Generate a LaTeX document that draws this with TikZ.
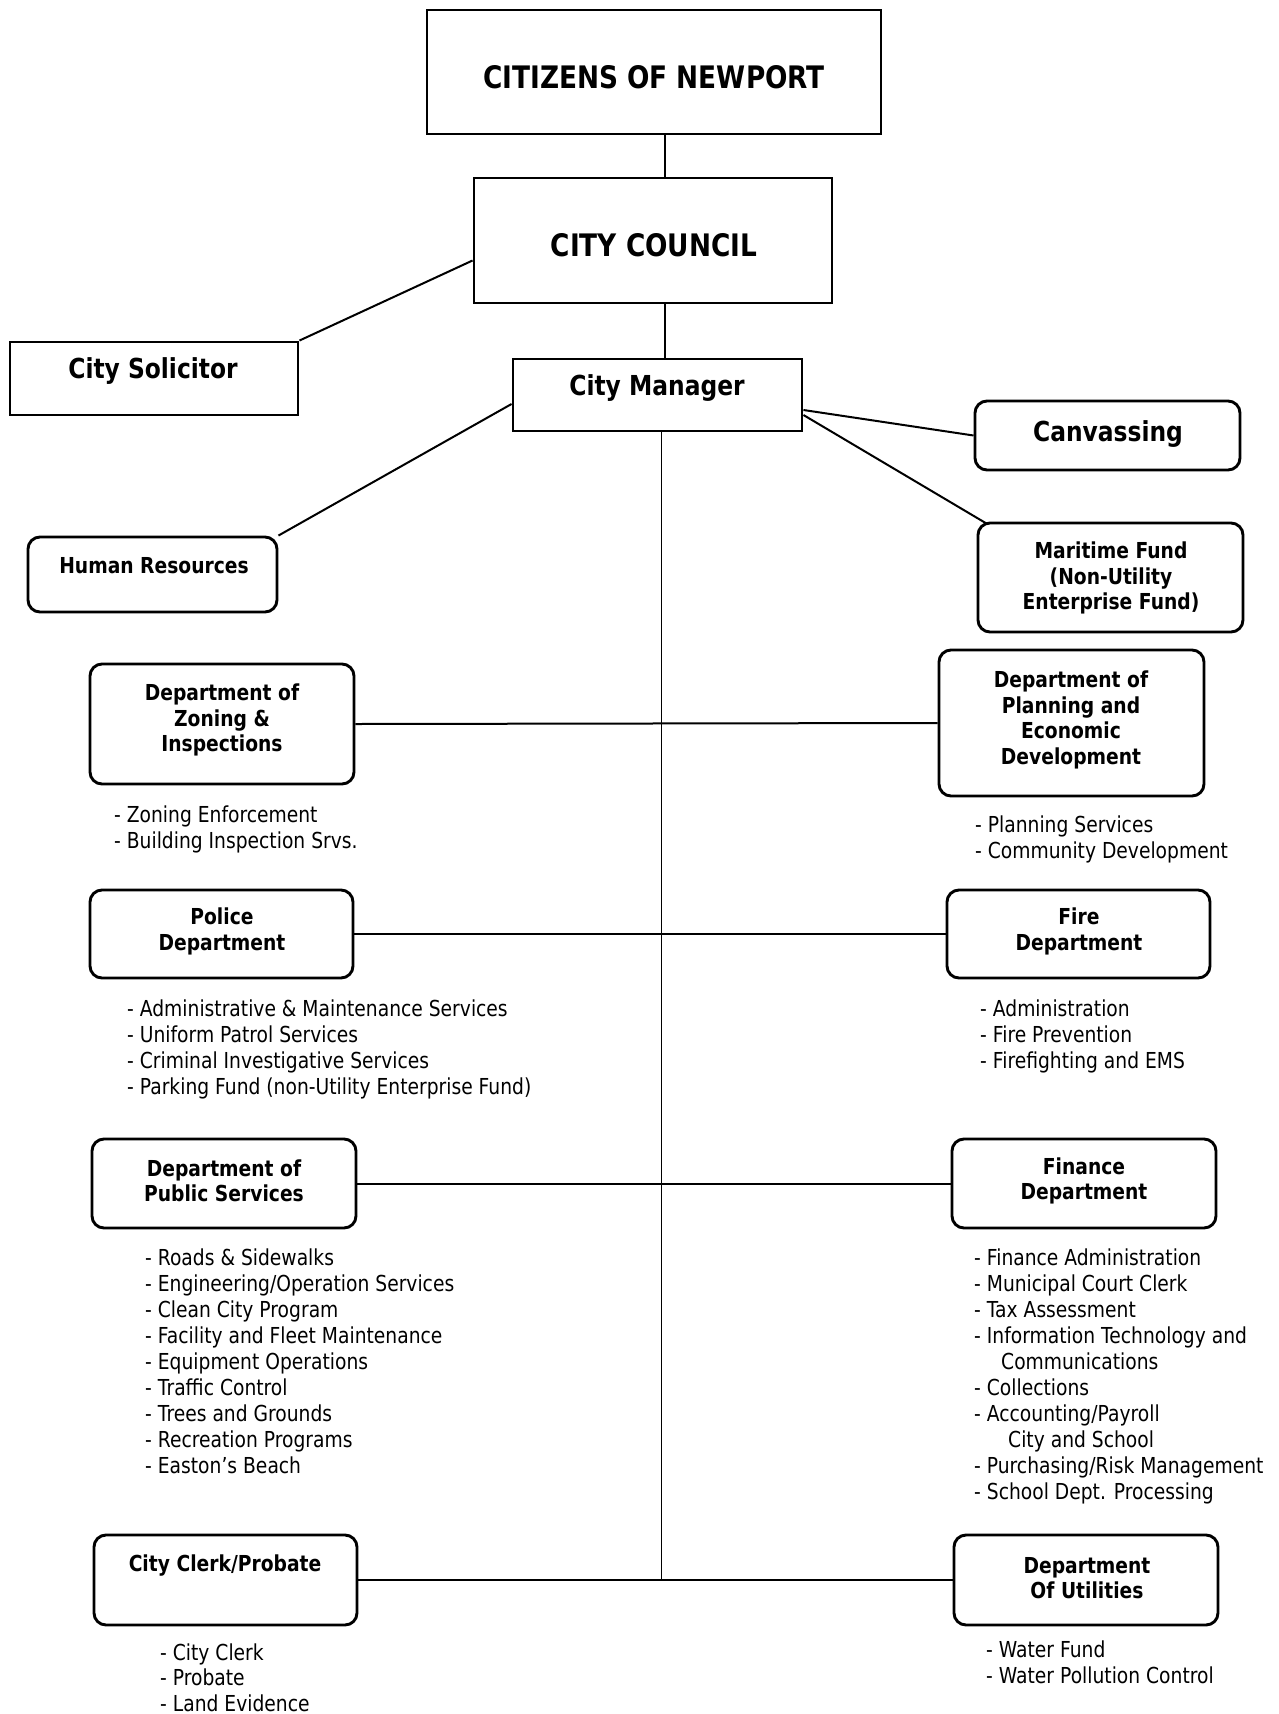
\documentclass[tikz,border=0pt]{standalone}
\usepackage{fontspec}
\setmainfont{DejaVu Sans}[FakeStretch=0.85]
\begin{document}
\begin{tikzpicture}[x=1pt,y=-1pt,
  box/.style={draw, line width=2.9pt, inner sep=0pt},
  rbox/.style={box, rounded corners=12pt},
  tbig/.style={inner sep=0pt, font=\bfseries\fontsize{31}{36}\selectfont},
  tmed/.style={inner sep=0pt, font=\bfseries\fontsize{27.5}{32}\selectfont},
  tsm/.style={inner sep=0pt, align=center, font=\bfseries\fontsize{22}{25.5}\selectfont},
  item/.style={inner sep=0pt, anchor=base west, font=\fontsize{22}{26}\selectfont},
  link/.style={line width=2pt},
  trunk/.style={line width=1.6pt}]
\useasboundingbox (0,0) rectangle (1278,1714);
\fill[white] (0,0) rectangle (1278,1714);

% boxes
\node[box, minimum width=454pt, minimum height=124pt] (citizens) at (654,72) {};
\node[box, minimum width=358pt, minimum height=125pt] (council) at (653,240.5) {};
\node[box, minimum width=288pt, minimum height=73pt] (solicitor) at (154,378.5) {};
\node[box, minimum width=289pt, minimum height=72pt] (manager) at (657.5,395) {};
\node[rbox, minimum width=265pt, minimum height=69pt] (canvass) at (1107.5,435.5) {};
\node[rbox, minimum width=265pt, minimum height=109pt] (maritime) at (1110.5,577.5) {};
\node[rbox, minimum width=249pt, minimum height=75pt] (hr) at (152.5,574.5) {};
\node[rbox, minimum width=264pt, minimum height=120pt] (zoning) at (222,724) {};
\node[rbox, minimum width=265pt, minimum height=146pt] (planning) at (1071.5,723) {};
\node[rbox, minimum width=263pt, minimum height=88pt] (police) at (221.5,934) {};
\node[rbox, minimum width=263pt, minimum height=88pt] (fire) at (1078.5,934) {};
\node[rbox, minimum width=264pt, minimum height=89pt] (public) at (224,1183.5) {};
\node[rbox, minimum width=264pt, minimum height=89pt] (finance) at (1084,1183.5) {};
\node[rbox, minimum width=263pt, minimum height=90pt] (clerk) at (225.5,1580) {};
\node[rbox, minimum width=264pt, minimum height=90pt] (utilities) at (1086,1580) {};

% box texts
\node[tbig] (citizens-t) at (654,77) {CITIZENS OF NEWPORT};
\node[tbig] (council-t) at (654,245) {CITY COUNCIL};
\node[tmed] (solicitor-t) at (153,371) {City Solicitor};
\node[tmed] (manager-t) at (657,388) {City Manager};
\node[tmed] (canvass-t) at (1108,434) {Canvassing};
\node[tsm] (maritime-t) at (1111,578) {Maritime Fund\\(Non-Utility\\Enterprise Fund)};
\node[tsm] (hr-t) at (154,566) {Human Resources};
\node[tsm] (zoning-t) at (222,720) {Department of\\Zoning \&\\Inspections};
\node[tsm] (planning-t) at (1071,720) {Department of\\Planning and\\Economic\\Development};
\node[tsm] (police-t) at (222,931.5) {Police\\Department};
\node[tsm] (fire-t) at (1079,931.5) {Fire\\Department};
\node[tsm] (public-t) at (224,1181) {Department of\\Public Services};
\node[tsm] (finance-t) at (1084,1181) {Finance\\Department};
\node[tsm] (clerk-t) at (225,1565) {City Clerk/Probate};
\node[tsm] (utilities-t) at (1087,1578) {Department\\Of Utilities};

% connectors
\coordinate (spine) at (665,0);
\draw[link] (spine |- citizens.south) -- (spine |- council.north);
\draw[link] (spine |- council.south) -- (spine |- manager.north);
\draw[link] ([yshift=-20pt]council.west) -- (solicitor.north east);
\draw[link] ([yshift=-9pt]manager.west) -- (hr.north east);
\draw[link] ([yshift=-15pt]manager.east) -- (canvass.west);
\draw[link] ([yshift=-20pt]manager.east) -- ([xshift=10pt,yshift=-2pt]maritime.north west);
\coordinate (trunkend) at ([xshift=4pt]manager.south |- clerk.east);
\draw[trunk] ([xshift=4pt]manager.south) -- (trunkend);
\draw[link] (zoning.east) -- (planning.west);
\draw[link] (police.east) -- (fire.west);
\draw[link] (public.east) -- (finance.west);
\draw[link] (clerk.east) -- (utilities.west);

% lists
\foreach \txt [count=\i from 0] in {{- Zoning Enforcement},{- Building Inspection Srvs.}}
  \node[item] (zonl-\i) at (114,{822+26*\i}) {\txt};
\foreach \txt [count=\i from 0] in {{- Planning Services},{- Community Development}}
  \node[item] (plal-\i) at (975,{832+26*\i}) {\txt};
\foreach \txt [count=\i from 0] in {{- Administrative \& Maintenance Services},{- Uniform Patrol Services},{- Criminal Investigative Services},{- Parking Fund (non-Utility Enterprise Fund)}}
  \node[item] (poll-\i) at (127,{1016+26*\i}) {\txt};
\foreach \txt [count=\i from 0] in {{- Administration},{- Fire Prevention},{- Firefighting and EMS}}
  \node[item] (firl-\i) at (980,{1016+26*\i}) {\txt};
\foreach \txt [count=\i from 0] in {{- Roads \& Sidewalks},{- Engineering/Operation Services},{- Clean City Program},{- Facility and Fleet Maintenance},{- Equipment Operations},{- Traffic Control},{- Trees and Grounds},{- Recreation Programs},{- Easton’s Beach}}
  \node[item] (publ-\i) at (145,{1265+26.1*\i}) {\txt};
\foreach \txt [count=\i from 0] in {{- Finance Administration},{- Municipal Court Clerk},{- Tax Assessment},{- Information Technology and},{\hspace*{27pt}Communications},{- Collections},{- Accounting/Payroll},{\hspace*{34pt}City and School},{- Purchasing/Risk Management},{- School Dept. Processing}}
  \node[item] (finl-\i) at (974,{1265+26*\i}) {\txt};
\foreach \txt [count=\i from 0] in {{- City Clerk},{- Probate},{- Land Evidence}}
  \node[item] (clel-\i) at (160,{1660+25.5*\i}) {\txt};
\foreach \txt [count=\i from 0] in {{- Water Fund},{- Water Pollution Control}}
  \node[item] (util-\i) at (986,{1657+26*\i}) {\txt};
\end{tikzpicture}
\end{document}
